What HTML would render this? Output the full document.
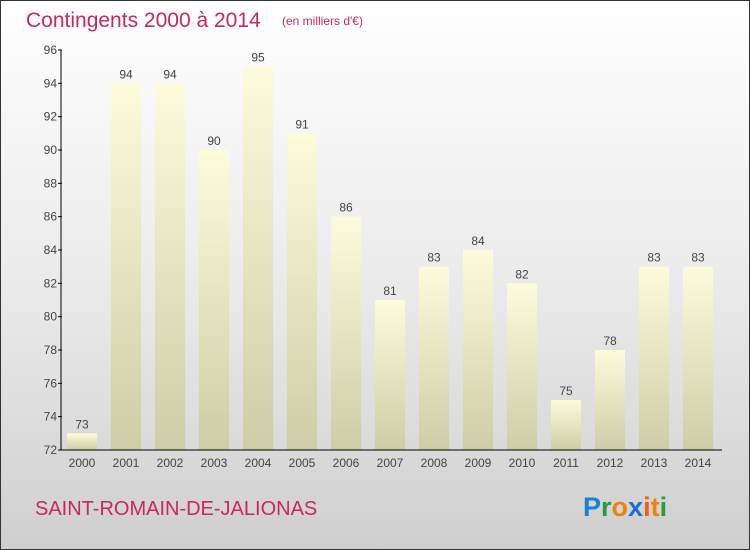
<!DOCTYPE html>
<html><head><meta charset="utf-8"><style>
body{margin:0}
#c{width:750px;height:550px;position:relative;box-sizing:border-box;border:1px solid #333;background:linear-gradient(#ffffff,#e9e9e9 55%,#cfcfcf);font-family:"Liberation Sans",sans-serif;overflow:hidden}
</style></head><body>
<div id="c">
<svg width="750" height="550" style="position:absolute;left:-1px;top:-1px">
<defs><linearGradient id="bg" x1="0" y1="0" x2="0" y2="1"><stop offset="0" stop-color="#fcfcdc"/><stop offset="1" stop-color="#cdcda6"/></linearGradient></defs>
<text x="26" y="27" font-size="21" fill="#c8285a">Contingents 2000 à 2014</text>
<text x="282" y="25" font-size="12" fill="#c8285a">(en milliers d'€)</text>
<g id="bars"></g>
<g id="axes"></g>
<text x="35" y="515" font-size="20" fill="#c8285a">SAINT-ROMAIN-DE-JALIONAS</text>
<g font-size="27" font-weight="bold" font-family="Liberation Sans,sans-serif">
<text x="583" y="516"><tspan fill="#1a7fd6">P</tspan><tspan fill="#2a9a3a">r</tspan><tspan fill="#f08010">o</tspan><tspan fill="#1a6fd0">x</tspan><tspan fill="#f06010">i</tspan><tspan fill="#f08010">t</tspan><tspan fill="#2a9a3a">i</tspan></text>
</g>
</svg>
</div>
<script>
const years=["2000","2001","2002","2003","2004","2005","2006","2007","2008","2009","2010","2011","2012","2013","2014"];
const values=[73,94,94,90,95,91,86,81,83,84,82,75,78,83,83];
const ticks=[72,74,76,78,80,82,84,86,88,90,92,94,96];
const NS="http://www.w3.org/2000/svg";
const y=v=>450-(v-72)*400/24;
const x=i=>67+44*i;
const bars=document.getElementById('bars'),axes=document.getElementById('axes');
function mk(tag,at,p){const e=document.createElementNS(NS,tag);for(const k in at)e.setAttribute(k,at[k]);p.appendChild(e);return e;}
values.forEach((v,i)=>{
const r=mk('rect',{x:x(i),y:y(v),width:30,height:450-y(v),fill:'url(#bg)'},bars);


const t=mk('text',{x:x(i)+15,y:y(v)-5,'text-anchor':'middle','font-size':12,fill:'#444'},bars);
t.textContent=v;


const l=mk('text',{x:x(i)+15,y:467,'text-anchor':'middle','font-size':12,fill:'#444'},axes);
l.textContent=years[i];


});
mk('line',{x1:61,y1:50,x2:61,y2:450,stroke:'#000'},axes);
mk('line',{x1:61,y1:450,x2:722,y2:450,stroke:'#000'},axes);
ticks.forEach(v=>{
mk('line',{x1:58,y1:y(v),x2:62,y2:y(v),stroke:'#000'},axes);
const t=mk('text',{x:57,y:y(v)+4,'text-anchor':'end','font-size':12,fill:'#444'},axes);
t.textContent=v;


});
</script>
</body></html>
